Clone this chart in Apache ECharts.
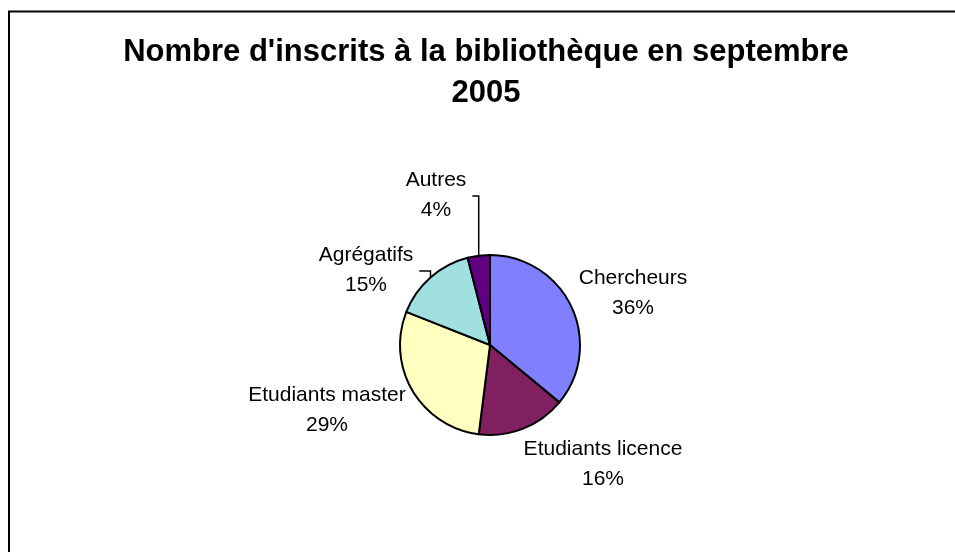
<!DOCTYPE html>
<html>
<head>
<meta charset="UTF-8">
<title>Nombre d'inscrits à la bibliothèque</title>
<script src="https://cdn.jsdelivr.net/npm/echarts@6/dist/echarts.min.js"></script>
<style>
 html,body{margin:0;padding:0;background:#fff;}
 #main{width:955px;height:552px;}
</style>
</head>
<body>
<div id="main"></div>
<script>
// données
var categories = ['Chercheurs', 'Etudiants licence', 'Etudiants master', 'Agrégatifs', 'Autres'];
var values = [36, 16, 29, 15, 4];
var colors = ['#8080FF', '#802060', '#FFFFC0', '#A0E0E0', '#600080'];

// mise en page (position des étiquettes, centre du camembert)
var pieCenter = [490, 345];
var pieRadius = 90;
var labelCenters = [[633, 293], [603, 464], [327, 410], [366, 270], [436, 195]];
var withLeader = [3, 4];

var total = values.reduce(function (a, b) { return a + b; }, 0);

// point du bord au milieu de la part i
function edgePoint(i) {
    var cum = 0;
    for (var k = 0; k < i; k++) cum += values[k];
    var a = (cum + values[i] / 2) / total * 2 * Math.PI;
    return [pieCenter[0] + pieRadius * Math.sin(a), pieCenter[1] - pieRadius * Math.cos(a)];
}

var data = categories.map(function (name, i) {
    return {
        name: name,
        value: values[i],
        itemStyle: { color: colors[i] },
        labelLine: { show: withLeader.indexOf(i) >= 0 }
    };
});

var myChart = echarts.init(document.getElementById('main'));
var option = {
    animation: false,
    backgroundColor: '#fff',
    title: {
        text: "Nombre d'inscrits à la bibliothèque en septembre\n2005",
        left: 486,
        top: 32,
        padding: 0,
        textAlign: 'center',
        textStyle: {
            fontFamily: 'Liberation Sans, Arial, sans-serif',
            fontSize: 31,
            fontWeight: 'bold',
            lineHeight: 41,
            color: '#000'
        }
    },
    graphic: [{
        type: 'rect',
        shape: { x: 9, y: 11.5, width: 1000, height: 1000 },
        style: { fill: 'none', stroke: '#000', lineWidth: 2 },
        silent: true
    }],
    series: [{
        type: 'pie',
        center: pieCenter,
        radius: pieRadius,
        startAngle: 90,
        clockwise: true,
        avoidLabelOverlap: false,
        emphasis: { disabled: true },
        itemStyle: { borderColor: '#000', borderWidth: 2 },
        label: {
            show: true,
            position: 'outside',
            formatter: '{b}\n{d}%',
            fontFamily: 'Liberation Sans, Arial, sans-serif',
            fontSize: 21,
            lineHeight: 30,
            color: '#000',
            align: 'center'
        },
        labelLine: {
            show: false,
            lineStyle: { color: '#000', width: 1.5 }
        },
        labelLayout: function (params) {
            var i = params.dataIndex;
            var c = labelCenters[i];
            var res = { x: c[0], y: c[1], align: 'center', verticalAlign: 'middle' };
            if (withLeader.indexOf(i) >= 0) {
                var p = edgePoint(i);
                var w = params.labelRect.width;
                res.labelLinePoints = [p, [p[0], c[1] + 1], [c[0] + w / 2 + 6, c[1] + 1]];
            }
            return res;
        },
        data: data
    }]
};
myChart.setOption(option);
</script>
</body>
</html>
